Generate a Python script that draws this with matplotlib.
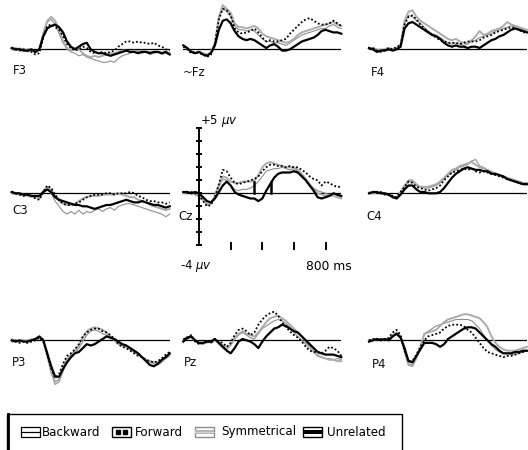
import numpy as np
import matplotlib
matplotlib.use("Agg")
import matplotlib.pyplot as plt
from matplotlib.patches import Rectangle

# ---------------- data (µV, sampled every 25 ms from -100 to 900 ms) ----------------
times = np.arange(-100, 901, 25)

conditions = ["Backward", "Forward", "Symmetrical", "Unrelated"]

F3_backward = [0.0, -0.1, 0.1, 0.0, -0.2, -0.1, -0.3, 0.1, 1.3, 2.1, 2.3, 1.9, 1.2, 0.5, 0.0, -0.2, -0.3, -0.5, -0.4, -0.6, -0.7, -0.8, -0.9, -1.0, -1.0, -0.9, -1.0, -0.7, -0.5, -0.4, -0.3, -0.2, -0.1, -0.3, -0.2, -0.4, -0.3, -0.2, -0.4, -0.3, -0.4]
F3_forward = [0.1, 0.0, -0.1, 0.0, -0.1, -0.2, -0.4, -0.3, 0.9, 1.8, 1.9, 1.7, 1.5, 1.0, 0.4, 0.1, -0.1, 0.0, 0.2, 0.1, -0.2, -0.3, -0.3, -0.2, -0.3, -0.2, -0.1, 0.2, 0.4, 0.6, 0.6, 0.5, 0.6, 0.5, 0.5, 0.4, 0.5, 0.3, 0.2, 0.0, -0.1]
F3_symmetrical = [0.0, 0.1, 0.0, -0.1, 0.0, -0.1, -0.2, 0.0, 1.2, 2.2, 2.5, 2.2, 1.4, 0.6, 0.1, -0.1, 0.1, 0.0, -0.3, -0.5, -0.6, -0.5, -0.6, -0.5, -0.4, -0.3, -0.3, -0.2, -0.1, -0.1, -0.2, -0.1, -0.2, -0.1, -0.2, -0.2, -0.3, -0.2, -0.3, -0.2, -0.3]
F3_unrelated = [0.1, 0.0, 0.0, -0.1, -0.1, 0.0, -0.2, 0.0, 1.0, 1.6, 1.8, 1.9, 1.7, 1.3, 0.6, 0.2, 0.0, 0.2, 0.4, 0.5, 0.0, -0.2, -0.3, -0.3, -0.4, -0.5, -0.4, -0.3, -0.2, -0.1, -0.2, -0.2, -0.3, -0.2, -0.2, -0.3, -0.2, -0.2, -0.3, -0.2, -0.4]

Fz_backward = [0.3, 0.1, -0.1, -0.3, -0.2, -0.3, -0.5, -0.2, 0.5, 2.3, 3.2, 2.9, 2.5, 1.8, 1.5, 1.5, 1.4, 1.5, 1.4, 1.1, 0.8, 0.6, 0.6, 0.5, 0.5, 0.4, 0.3, 0.5, 0.7, 0.9, 1.1, 1.2, 1.3, 1.4, 1.5, 1.6, 1.6, 1.8, 1.9, 1.7, 1.6]
Fz_forward = [0.2, 0.0, -0.3, -0.2, -0.3, -0.4, -0.6, -0.4, 0.4, 2.3, 3.1, 3.0, 2.6, 1.6, 1.3, 1.2, 1.3, 1.4, 1.6, 1.3, 0.9, 0.6, 0.7, 0.6, 0.6, 0.7, 0.8, 1.2, 1.5, 1.8, 2.1, 2.3, 2.4, 2.2, 2.0, 1.9, 1.9, 2.0, 2.2, 2.0, 1.8]
Fz_symmetrical = [0.3, 0.0, -0.2, -0.3, -0.2, -0.3, -0.4, -0.2, 0.5, 2.5, 3.4, 3.1, 2.8, 2.0, 1.7, 1.7, 1.6, 1.7, 1.8, 1.6, 1.2, 1.0, 0.9, 0.8, 0.7, 0.6, 0.5, 0.6, 0.8, 1.1, 1.3, 1.4, 1.5, 1.6, 1.7, 1.8, 1.9, 2.0, 2.1, 1.9, 1.8]
Fz_unrelated = [0.3, 0.1, -0.2, -0.3, -0.2, -0.4, -0.5, -0.3, 0.3, 1.5, 2.2, 2.3, 2.0, 1.4, 1.0, 0.8, 0.7, 0.8, 0.7, 0.5, 0.3, 0.1, 0.3, 0.4, 0.2, -0.1, -0.1, 0.0, 0.2, 0.4, 0.6, 0.7, 0.8, 0.9, 1.1, 1.4, 1.5, 1.4, 1.3, 1.3, 1.2]

F4_backward = [0.0, 0.1, 0.0, -0.1, 0.0, 0.0, -0.1, 0.1, 0.3, 2.0, 2.6, 2.5, 2.2, 2.0, 1.7, 1.4, 1.2, 1.1, 0.9, 0.7, 0.5, 0.4, 0.5, 0.4, 0.3, 0.4, 0.6, 0.7, 0.9, 1.0, 1.1, 1.2, 1.4, 1.5, 1.6, 1.7, 1.8, 1.7, 1.6, 1.5, 1.4]
F4_forward = [0.0, 0.1, -0.1, -0.2, 0.0, 0.1, 0.0, 0.2, 0.3, 1.9, 2.5, 2.6, 2.3, 1.9, 1.6, 1.3, 1.1, 0.9, 0.7, 0.6, 0.5, 0.5, 0.5, 0.4, 0.5, 0.6, 0.6, 0.6, 0.7, 0.9, 1.0, 1.1, 1.3, 1.4, 1.5, 1.6, 1.7, 1.6, 1.5, 1.3, 1.3]
F4_symmetrical = [0.1, 0.0, -0.1, 0.0, -0.1, 0.1, 0.0, 0.1, 0.4, 2.2, 2.9, 3.0, 2.5, 2.2, 2.0, 1.8, 1.6, 1.4, 1.2, 1.0, 0.8, 0.7, 0.8, 0.6, 0.5, 0.5, 0.7, 1.0, 1.4, 1.1, 1.2, 1.4, 1.5, 1.6, 1.8, 2.1, 1.9, 1.8, 1.7, 1.6, 1.5]
F4_unrelated = [0.1, 0.0, -0.2, -0.1, -0.1, 0.0, -0.1, 0.0, 0.2, 1.6, 2.0, 2.1, 1.9, 1.7, 1.5, 1.3, 1.1, 1.0, 0.8, 0.5, 0.3, 0.2, 0.3, 0.2, 0.2, 0.1, 0.2, 0.2, 0.1, 0.3, 0.5, 0.7, 0.8, 1.0, 1.1, 1.3, 1.5, 1.6, 1.5, 1.4, 1.3]

C3_backward = [0.0, -0.1, -0.1, -0.2, -0.2, -0.3, -0.3, -0.4, 0.0, 0.3, 0.0, -0.6, -1.0, -1.4, -1.6, -1.4, -1.6, -1.3, -1.6, -1.4, -1.5, -1.3, -1.2, -1.4, -1.2, -1.1, -1.3, -1.0, -0.9, -0.8, -0.8, -0.9, -1.0, -1.1, -1.2, -1.3, -1.4, -1.5, -1.6, -1.8, -1.6]
C3_forward = [0.1, 0.0, -0.1, -0.2, -0.1, -0.2, -0.4, -0.5, 0.1, 0.6, 0.4, -0.1, -0.5, -0.8, -0.9, -0.9, -0.8, -0.7, -0.5, -0.3, -0.2, -0.1, -0.1, -0.1, 0.0, 0.0, -0.1, 0.0, 0.0, 0.0, 0.1, 0.0, -0.2, -0.3, -0.5, -0.6, -0.6, -0.7, -0.7, -0.8, -0.7]
C3_symmetrical = [0.0, 0.0, -0.1, -0.1, -0.2, -0.2, -0.3, -0.4, 0.2, 0.5, 0.3, -0.2, -0.6, -0.8, -0.9, -0.9, -0.8, -0.6, -0.4, -0.3, -0.2, -0.2, -0.2, -0.1, -0.1, -0.1, -0.1, 0.0, -0.1, -0.2, -0.3, -0.3, -0.5, -0.6, -0.7, -0.9, -1.0, -1.1, -1.2, -1.3, -1.2]
C3_unrelated = [0.1, 0.0, 0.0, -0.1, -0.1, -0.2, -0.2, -0.2, 0.1, 0.3, 0.1, -0.3, -0.5, -0.6, -0.7, -0.8, -0.9, -0.9, -1.0, -1.0, -1.1, -1.2, -1.1, -1.0, -0.9, -0.9, -0.8, -0.7, -0.6, -0.5, -0.6, -0.7, -0.7, -0.6, -0.7, -0.8, -0.9, -0.9, -1.0, -1.1, -1.0]

Cz_backward = [0.0, 0.0, 0.1, 0.0, -0.1, -0.4, -0.8, -0.7, -0.2, 0.5, 1.1, 1.0, 0.6, 0.3, 0.2, 0.3, 0.3, 0.4, 0.6, 0.9, 1.3, 1.7, 1.8, 1.9, 1.9, 2.0, 1.9, 1.8, 1.9, 1.7, 1.4, 1.0, 0.7, 0.4, 0.2, 0.1, 0.0, -0.1, 0.0, -0.2, -0.3]
Cz_forward = [0.1, 0.0, 0.1, 0.0, -0.2, -0.6, -1.0, -0.9, -0.3, 0.7, 1.8, 1.7, 1.2, 0.8, 0.7, 0.8, 0.9, 1.0, 1.1, 1.3, 1.7, 2.0, 2.2, 2.2, 2.1, 2.1, 2.0, 2.1, 2.0, 2.0, 1.8, 1.6, 1.3, 1.1, 1.0, 0.6, 0.9, 0.8, 0.6, 0.5, 0.5]
Cz_symmetrical = [0.0, 0.1, 0.0, -0.1, -0.2, -0.5, -0.9, -0.8, -0.2, 0.6, 1.3, 1.2, 0.9, 0.8, 0.8, 0.9, 0.9, 0.9, 1.0, 1.4, 2.0, 2.3, 2.4, 2.3, 2.2, 2.1, 2.0, 2.0, 2.0, 1.8, 1.5, 1.1, 0.7, 0.3, 0.0, -0.1, -0.2, -0.1, -0.2, -0.3, -0.4]
Cz_unrelated = [0.1, 0.1, 0.0, 0.1, 0.0, -0.3, -0.6, -0.7, -0.4, 0.1, 0.6, 0.9, 0.6, 0.1, -0.1, -0.2, -0.3, -0.4, -0.4, -0.6, -0.4, 0.2, 0.7, 1.2, 1.5, 1.6, 1.6, 1.6, 1.7, 1.6, 1.3, 1.0, 0.6, 0.2, -0.3, -0.4, -0.3, -0.2, 0.0, -0.1, -0.2]

C4_backward = [0.1, 0.0, 0.0, 0.1, 0.0, -0.2, -0.2, -0.3, 0.0, 0.5, 0.9, 0.9, 0.6, 0.5, 0.4, 0.4, 0.5, 0.6, 0.8, 1.1, 1.4, 1.6, 1.8, 2.0, 2.1, 2.2, 2.5, 2.6, 2.1, 2.0, 1.8, 1.7, 1.5, 1.4, 1.3, 1.2, 1.1, 1.0, 0.9, 0.8, 0.8]
C4_forward = [0.0, 0.1, 0.0, 0.1, -0.1, -0.1, -0.2, -0.3, 0.1, 0.5, 0.9, 0.8, 0.5, 0.4, 0.3, 0.2, 0.3, 0.4, 0.6, 1.0, 1.3, 1.6, 1.7, 1.8, 1.9, 1.8, 1.9, 1.7, 1.6, 1.7, 1.6, 1.5, 1.4, 1.3, 1.2, 1.1, 1.0, 0.9, 0.8, 0.7, 0.7]
C4_symmetrical = [0.0, 0.0, 0.1, 0.0, -0.1, -0.1, -0.3, -0.3, 0.1, 0.6, 1.0, 1.0, 0.7, 0.5, 0.5, 0.5, 0.6, 0.7, 0.9, 1.2, 1.5, 1.8, 1.9, 2.1, 2.2, 2.3, 2.4, 2.2, 2.0, 1.9, 1.8, 1.6, 1.5, 1.4, 1.3, 1.2, 1.1, 1.0, 0.9, 0.8, 0.8]
C4_unrelated = [0.0, 0.1, 0.1, 0.0, 0.0, -0.1, -0.3, -0.4, -0.1, 0.3, 0.6, 0.6, 0.3, 0.1, 0.1, 0.0, 0.0, 0.0, 0.1, 0.4, 0.8, 1.2, 1.5, 1.7, 1.9, 2.0, 1.9, 1.8, 1.8, 1.7, 1.7, 1.5, 1.5, 1.4, 1.3, 1.1, 1.0, 0.9, 0.8, 0.7, 0.7]

P3_backward = [0.1, 0.0, -0.1, 0.0, 0.0, 0.1, 0.0, 0.3, 0.1, -1.2, -2.5, -3.4, -3.2, -2.4, -1.6, -1.2, -1.0, -0.6, -0.1, 0.4, 0.7, 0.8, 0.7, 0.5, 0.4, 0.3, 0.1, -0.1, -0.3, -0.5, -0.7, -0.9, -1.1, -1.3, -1.5, -1.7, -1.8, -1.9, -1.7, -1.4, -1.2]
P3_forward = [-0.1, 0.0, -0.2, -0.1, -0.2, -0.1, 0.0, 0.2, -0.1, -1.1, -2.2, -2.9, -2.6, -1.8, -1.2, -1.0, -0.7, -0.3, 0.3, 0.6, 0.8, 0.9, 0.9, 0.7, 0.6, 0.4, 0.1, -0.3, -0.5, -0.6, -0.8, -1.0, -1.2, -1.3, -1.5, -1.6, -1.7, -1.6, -1.4, -1.1, -0.9]
P3_symmetrical = [0.0, -0.1, -0.1, 0.0, -0.1, 0.0, 0.1, 0.2, 0.0, -1.2, -2.4, -3.2, -3.0, -2.1, -1.4, -1.1, -0.8, -0.4, 0.2, 0.7, 0.9, 1.0, 0.9, 0.8, 0.6, 0.3, 0.0, -0.3, -0.4, -0.5, -0.7, -0.9, -1.1, -1.3, -1.5, -1.6, -1.7, -1.7, -1.6, -1.3, -1.1]
P3_unrelated = [0.0, -0.1, 0.0, -0.1, -0.1, 0.0, 0.1, 0.3, 0.0, -1.0, -2.0, -2.8, -2.8, -2.2, -1.7, -1.3, -1.0, -0.9, -0.6, -0.3, -0.4, -0.3, -0.1, 0.1, 0.3, 0.2, 0.1, -0.1, -0.3, -0.4, -0.6, -0.8, -1.0, -1.3, -1.6, -1.9, -2.0, -1.8, -1.5, -1.3, -1.0]

Pz_backward = [0.1, 0.3, 0.2, -0.1, -0.3, -0.2, -0.2, -0.1, 0.0, -0.3, -0.6, -0.7, -0.4, 0.1, 0.4, 0.6, 0.4, 0.2, 0.1, 0.5, 0.9, 1.1, 1.3, 1.5, 1.6, 1.5, 1.3, 1.0, 0.6, 0.3, 0.0, -0.3, -0.6, -0.9, -1.1, -1.3, -1.4, -1.4, -1.5, -1.4, -1.5]
Pz_forward = [0.1, 0.1, 0.4, -0.1, -0.3, -0.2, 0.0, -0.2, 0.1, -0.1, -0.2, -0.5, -0.2, 0.4, 0.8, 0.9, 0.7, 0.4, 0.6, 1.2, 1.6, 1.9, 2.1, 2.2, 1.9, 1.4, 1.0, 0.7, 0.4, 0.2, -0.1, -0.5, -0.8, -0.9, -0.9, -1.0, -0.8, -0.5, -0.6, -0.8, -1.2]
Pz_symmetrical = [0.0, 0.2, 0.2, 0.0, -0.2, -0.3, -0.1, -0.2, 0.0, -0.2, -0.4, -0.6, -0.3, 0.2, 0.5, 0.7, 0.5, 0.4, 0.3, 0.6, 1.0, 1.4, 1.7, 1.8, 1.9, 1.7, 1.5, 1.2, 0.9, 0.6, 0.3, -0.1, -0.5, -0.9, -1.2, -1.3, -1.4, -1.5, -1.5, -1.6, -1.6]
Pz_unrelated = [-0.1, 0.2, 0.3, 0.0, -0.2, -0.2, -0.1, -0.1, 0.1, -0.2, -0.5, -0.8, -1.0, -0.6, -0.1, 0.1, 0.0, -0.1, -0.3, -0.6, -0.1, 0.3, 0.6, 0.9, 1.0, 1.2, 1.1, 0.9, 0.7, 0.6, 0.3, 0.0, -0.3, -0.6, -0.9, -1.0, -1.1, -1.1, -1.1, -1.2, -1.3]

P4_backward = [0.0, 0.1, 0.0, 0.0, 0.1, 0.1, 0.4, 0.6, 0.2, -0.9, -1.8, -1.9, -1.3, -0.5, 0.5, 0.7, 0.9, 1.1, 1.2, 1.3, 1.4, 1.5, 1.6, 1.6, 1.6, 1.6, 1.5, 1.2, 0.9, 0.4, 0.0, -0.4, -0.7, -0.9, -1.0, -1.0, -1.1, -1.1, -1.0, -0.9, -0.8]
P4_forward = [0.0, 0.1, 0.0, 0.1, 0.0, 0.2, 0.6, 0.8, 0.4, -0.8, -1.6, -1.6, -1.1, -0.5, 0.0, 0.3, 0.4, 0.5, 0.6, 0.9, 1.1, 1.2, 1.2, 1.2, 1.1, 0.8, 0.6, 0.2, -0.2, -0.6, -0.9, -1.0, -1.1, -1.2, -1.3, -1.2, -1.2, -1.1, -1.0, -0.9, -0.8]
P4_symmetrical = [0.0, 0.0, 0.1, 0.1, 0.0, 0.1, 0.4, 0.6, 0.3, -0.9, -1.9, -2.0, -1.4, -0.5, 0.5, 0.6, 0.7, 0.8, 1.1, 1.4, 1.6, 1.7, 1.8, 1.9, 2.0, 2.0, 1.9, 1.8, 1.7, 1.4, 1.0, 0.3, -0.2, -0.5, -0.7, -0.8, -0.8, -0.8, -0.7, -0.6, -0.5]
P4_unrelated = [-0.1, 0.0, 0.1, 0.0, 0.1, 0.0, 0.3, 0.5, 0.2, -0.6, -1.6, -1.7, -1.2, -0.7, -0.2, -0.2, -0.2, -0.3, -0.5, -0.3, 0.1, 0.3, 0.5, 0.7, 0.9, 1.0, 1.0, 0.9, 0.6, 0.3, 0.0, -0.3, -0.5, -0.8, -1.0, -1.0, -1.0, -0.9, -0.9, -0.8, -0.8]

electrodes = ["F3", "Fz", "F4", "C3", "Cz", "C4", "P3", "Pz", "P4"]
panel_labels = ["F3", "~Fz", "F4", "C3", "Cz", "C4", "P3", "Pz", "P4"]

# Cz scale / markers
cz_uv_ticks = [-4, -3, -2, -1, 0, 1, 2, 3, 4, 5]
cz_time_ticks = [200, 400, 600, 800]
cz_marker_times = [350, 458]
cz_marker_height = 0.85

series = {
    "F3": [F3_backward, F3_forward, F3_symmetrical, F3_unrelated],
    "Fz": [Fz_backward, Fz_forward, Fz_symmetrical, Fz_unrelated],
    "F4": [F4_backward, F4_forward, F4_symmetrical, F4_unrelated],
    "C3": [C3_backward, C3_forward, C3_symmetrical, C3_unrelated],
    "Cz": [Cz_backward, Cz_forward, Cz_symmetrical, Cz_unrelated],
    "C4": [C4_backward, C4_forward, C4_symmetrical, C4_unrelated],
    "P3": [P3_backward, P3_forward, P3_symmetrical, P3_unrelated],
    "Pz": [Pz_backward, Pz_forward, Pz_symmetrical, Pz_unrelated],
    "P4": [P4_backward, P4_forward, P4_symmetrical, P4_unrelated],
}

# ---------------- layout (pixels) ----------------
W, H = 528, 450
col_x = [11.7, 183.3, 369.0]
row_zero = [49.3, 193.3, 340.3]
panel_w = 158.0
px_per_uv = 13.0
ymin, ymax = -4.6, 5.8

styles = {
    "Backward": dict(color="#8f8f8f", lw=0.8, ls="-", zorder=2),
    "Forward": dict(color="black", lw=1.3, ls=(0, (1, 1.2)), zorder=4),
    "Symmetrical": dict(color="#ababab", lw=1.4, ls="-", zorder=3),
    "Unrelated": dict(color="black", lw=1.6, ls="-", zorder=5),
}

fig = plt.figure(figsize=(W / 100, H / 100), dpi=100)
fig.patch.set_facecolor("white")

for i, el in enumerate(electrodes):
    r, c = divmod(i, 3)
    x0 = col_x[c]
    zy = row_zero[r]
    top_px = zy - ymax * px_per_uv
    h_px = (ymax - ymin) * px_per_uv
    ax = fig.add_axes([x0 / W, 1 - (top_px + h_px) / H, panel_w / W, h_px / H])
    ax.set_xlim(-100, 900)
    ax.set_ylim(ymin, ymax)
    ax.axis("off")
    ax.axhline(0, color="black", lw=0.9, zorder=1)
    for cond, vals in zip(conditions, series[el]):
        st = styles[cond]
        ax.plot(times, vals, color=st["color"], lw=st["lw"], ls=st["ls"],
                zorder=st["zorder"], solid_joinstyle="round", clip_on=False)
    if el == "Cz":
        ax.plot([0, 0], [cz_uv_ticks[0], cz_uv_ticks[-1]], color="black", lw=1.4, zorder=6)
        ax.plot([0] * len(cz_uv_ticks), cz_uv_ticks, ls="none", marker="_",
                ms=5, mew=1.4, color="black", zorder=6)
        for t in cz_time_ticks:
            ax.plot([t, t], [-3.85, -4.25], color="black", lw=1.4, zorder=6)
        for t in cz_marker_times:
            ax.plot([t, t], [0, cz_marker_height], color="black", lw=1.8, zorder=6)

# ---------------- overlay for texts and legend ----------------
ov = fig.add_axes([0, 0, 1, 1])
ov.set_xlim(0, W)
ov.set_ylim(H, 0)
ov.axis("off")
ov.patch.set_alpha(0)

label_pos = [(13, 71), (183, 72), (371, 72), (12, 211), (178, 217), (366, 216),
             (12, 363), (184, 362), (372, 364)]
for lab, (x, y) in zip(panel_labels, label_pos):
    ov.text(x, y, lab, fontsize=8.5, ha="left", va="center", color="#111111")

ov.text(200, 121, r"+5 $\mu v$", fontsize=8.5, ha="left", va="center")
ov.text(180, 266, r"-4 $\mu v$", fontsize=8.5, ha="left", va="center")
ov.text(352, 266, "800 ms", fontsize=8.8, ha="right", va="center")

# legend box
ov.add_patch(Rectangle((7, 414), 395, 45, fill=False, lw=1.0, edgecolor="black", clip_on=False))
ov.plot([7.5, 7.5], [414, 452], color="black", lw=2.0)

icon_x = [20.7, 111.7, 195.0, 302.7]
text_x = [41.7, 135.0, 221.7, 326.7]
iw, ih, cy = 19, 10, 432
for k, cond in enumerate(conditions):
    xl = icon_x[k]
    if cond == "Backward":
        ov.add_patch(Rectangle((xl, cy - ih / 2), iw, ih, fill=True, fc="white", ec="black", lw=0.9))
        ov.plot([xl, xl + iw], [cy, cy], color="black", lw=0.9)
    elif cond == "Forward":
        ov.add_patch(Rectangle((xl, cy - ih / 2), iw, ih, fill=True, fc="white", ec="black", lw=1.0))
        ov.plot([xl + 6, xl + 13], [cy, cy], ls="none", marker="s", ms=2.6, color="black")
    elif cond == "Symmetrical":
        ov.add_patch(Rectangle((xl, cy - ih / 2), iw, ih, fill=True, fc="white", ec="#8c8c8c", lw=1.0))
        ov.add_patch(Rectangle((xl, cy - 2.2), iw, 4.4, fill=True, fc="#b5b5b5", ec="none"))
        ov.plot([xl, xl + iw], [cy, cy], color="#d8d8d8", lw=0.6)
    else:
        ov.add_patch(Rectangle((xl, cy - ih / 2), iw, ih, fill=True, fc="white", ec="black", lw=1.0))
        ov.add_patch(Rectangle((xl, cy - 2.2), iw, 4.4, fill=True, fc="black", ec="none"))
    ov.text(text_x[k], cy, cond, fontsize=8.6, ha="left", va="center")

fig.savefig("out.png", dpi=100, facecolor="white")
